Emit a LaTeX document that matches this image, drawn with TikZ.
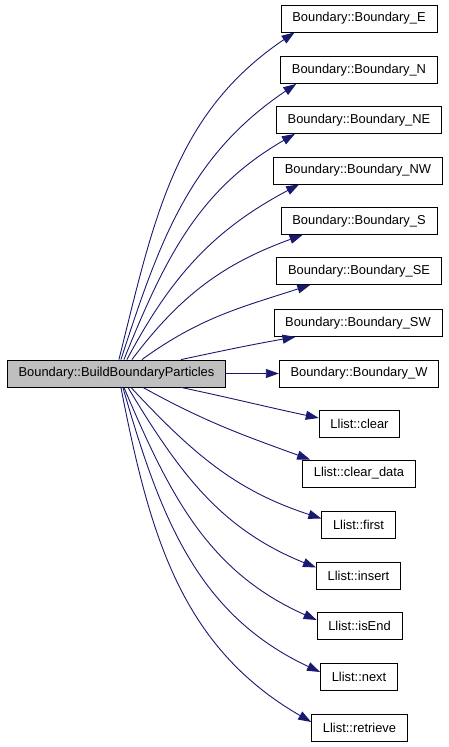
\documentclass[tikz,border=0pt]{standalone}
\usepackage{fontspec}
\setmainfont{Liberation Sans}
\usetikzlibrary{arrows.meta}
\definecolor{edgeblue}{HTML}{191970}
\definecolor{mainfill}{HTML}{BFBFBF}

\begin{document}
\begin{tikzpicture}[x=1pt,y=1pt,
  >={Triangle[length=13pt,width=9pt]},
  fn/.style={draw=black,line width=0.8pt,fill=white,minimum height=27pt,
    inner xsep=11.3pt,inner ysep=0pt,font=\fontsize{12.9}{15}\selectfont},
  call/.style={->,draw=edgeblue,line width=0.9pt}]
 \useasboundingbox (0,0) rectangle (448,747);
 \node [fn,fill=mainfill] (B0) at (116.5,373.5) {Boundary::BuildBoundaryParticles};
 \node [fn] (B1) at (359,728.5) {Boundary::Boundary\_E};
 \node [fn] (B2) at (359,677) {Boundary::Boundary\_N};
 \node [fn] (B3) at (359,627) {Boundary::Boundary\_NE};
 \node [fn] (B4) at (358,576.5) {Boundary::Boundary\_NW};
 \node [fn] (B5) at (359,526) {Boundary::Boundary\_S};
 \node [fn] (B6) at (359,476) {Boundary::Boundary\_SE};
 \node [fn] (B7) at (358,424) {Boundary::Boundary\_SW};
 \node [fn] (B8) at (359,373.5) {Boundary::Boundary\_W};
 \node [fn] (L1) at (359.5,323) {Llist::clear};
 \node [fn] (L2) at (359,273.5) {Llist::clear\_data};
 \node [fn] (L3) at (358.5,222.5) {Llist::first};
 \node [fn] (L4) at (358.5,171.5) {Llist::insert};
 \node [fn] (L5) at (359.5,121) {Llist::isEnd};
 \node [fn] (L6) at (359,70) {Llist::next};
 \node [fn] (L7) at (359.5,19) {Llist::retrieve};
 \draw [call] ([xshift=112pt]B0.north west) to [out=76,in=214] ([xshift=14pt]B1.south west);
 \draw [call] ([xshift=114pt]B0.north west) to [out=72,in=214] ([xshift=16pt]B2.south west);
 \draw [call] ([xshift=117pt]B0.north west) to [out=68,in=210] ([xshift=19pt]B3.south west);
 \draw [call] ([xshift=120pt]B0.north west) to [out=62,in=208] ([xshift=26pt]B4.south west);
 \draw [call] ([xshift=125pt]B0.north west) to [out=53,in=200] ([xshift=22pt]B5.south west);
 \draw [call] ([xshift=135pt]B0.north west) to [out=36,in=198] ([xshift=34pt]B6.south west);
 \draw [call] ([xshift=174pt]B0.north west) to [out=12,in=190] ([xshift=22pt]B7.south west);
 \draw [call] (B0) -- (B8);
 \draw [call] ([xshift=174pt]B0.south west) to [out=-12,in=168] ([yshift=6pt]L1.west);
 \draw [call] ([xshift=136pt]B0.south west) to [out=-29,in=160] ([xshift=8pt]L2.north west);
 \draw [call] ([xshift=124pt]B0.south west) to [out=-47,in=162] ([yshift=6pt]L3.west);
 \draw [call] ([xshift=121pt]B0.south west) to [out=-59,in=158] ([yshift=8pt]L4.west);
 \draw [call] ([xshift=117pt]B0.south west) to [out=-67,in=156] ([yshift=6pt]L5.west);
 \draw [call] ([xshift=116pt]B0.south west) to [out=-74,in=155] ([yshift=5pt]L6.west);
 \draw [call] ([xshift=114pt]B0.south west) to [out=-79,in=150] ([yshift=6pt]L7.west);
\end{tikzpicture}
\end{document}
